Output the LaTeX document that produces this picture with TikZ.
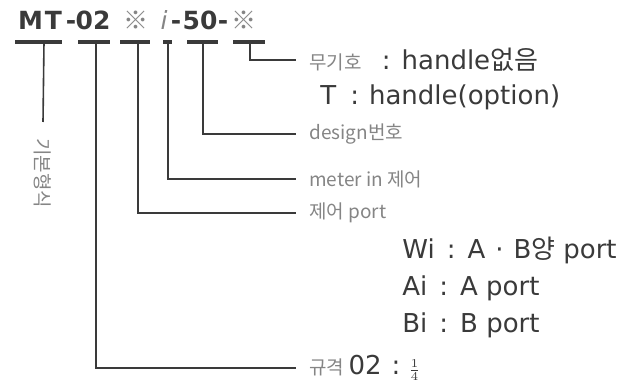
\documentclass[tikz,border=0pt]{standalone}
\usepackage{fontspec}
\setmainfont{DejaVu Sans}
\newfontfamily\kr{Noto Sans CJK KR}
\usetikzlibrary{positioning}
\definecolor{ink}{HTML}{3A3A3A}
\definecolor{soft}{HTML}{858585}

\begin{document}
\begin{tikzpicture}[x=0.5pt,y=-0.5pt,
  lead/.style={draw=ink,line width=0.8pt},
  bar/.style={draw=ink,line width=1.6pt},
  code/.style={font=\fontsize{12.5}{14}\selectfont\bfseries,text=ink,inner sep=0pt,anchor=base},
  note/.style={font=\fontsize{9.5}{11}\selectfont\kr,text=soft,anchor=west,inner xsep=6.5pt,inner ysep=0pt},
  big/.style={font=\fontsize{13}{15}\selectfont,text=ink,anchor=west,inner sep=0pt}]
  \useasboundingbox (0,0) rectangle (632,384);
  %code
  \node[code] (c-mt) at (40,30) {M\hspace{1pt}T};
  \node[code] (d1) at (71,30) {-};
  \node[code] (c-sz) at (93,30) {02};
  \node[code,text=soft] (c-port) at (136,30) {\kr ※};
  \node[code,font=\fontsize{12.5}{14}\selectfont\itshape,text=soft] (c-mi) at (164,30) {i};
  \node[code] (d2) at (176,30) {-};
  \node[code] (c-dn) at (200,30) {50};
  \node[code] (d3) at (223,30) {-};
  \node[code,text=soft] (c-hd) at (244,30) {\kr ※};
  %bars
  \draw[bar] (15,42) -- (62,42);
  \draw[bar] (78,42) -- (110,42);
  \draw[bar] (120,42) -- (150,42);
  \draw[bar] (163,42) -- (172,42);
  \draw[bar] (187,42) -- (218,42);
  \draw[bar] (233,42) -- (265,42);
  \coordinate (k1) at (44,42);
  \coordinate (k2) at (96,42);
  \coordinate (k3) at (138,42);
  \coordinate (k4) at (168,42);
  \coordinate (k5) at (203,42);
  \coordinate (k6) at (250,42);
  %labels
  \node[note,rotate=-90,inner xsep=8pt] (l-base) at (43,122) {기본형식};
  \node[note] (l-hd) at (296,60) {무기호\hspace{10pt}\normalfont\fontsize{13}{15}\selectfont\color{ink}: handle{\kr 없음}};
  \node[big] (l-hdt) at (320,97) {T\hspace{7pt}:\hspace{5pt}handle(option)};
  \node[note] (l-dn) at (296,134) {design번호};
  \node[note] (l-mi) at (296,179) {meter in 제어};
  \node[note] (l-port) at (296,213) {제어 port};
  \node[big] (l-wi) at (402,250) {Wi\hspace{6pt}:\hspace{6pt}A\hspace{5pt}·\hspace{5pt}B{\kr 양}\hspace{4pt}port};
  \node[big] (l-ai) at (402,288) {Ai\hspace{6pt}:\hspace{6pt}A port};
  \node[big] (l-bi) at (402,325) {Bi\hspace{6pt}:\hspace{6pt}B port};
  \node[note] (l-sz) at (296,368) {규격 \normalfont\fontsize{13}{15}\selectfont\color{ink}02\hspace{5pt}:\hspace{4pt}{\fontsize{9}{10}\selectfont$\frac{1}{4}$}};
  %leads
  \draw[lead] (k1) -- (l-base.west);
  \draw[lead] (k2) |- (l-sz.west);
  \draw[lead] (k3) |- (l-port.west);
  \draw[lead] (k4) |- (l-mi.west);
  \draw[lead] (k5) |- (l-dn.west);
  \draw[lead] (k6) |- (l-hd.west);
\end{tikzpicture}
\end{document}
